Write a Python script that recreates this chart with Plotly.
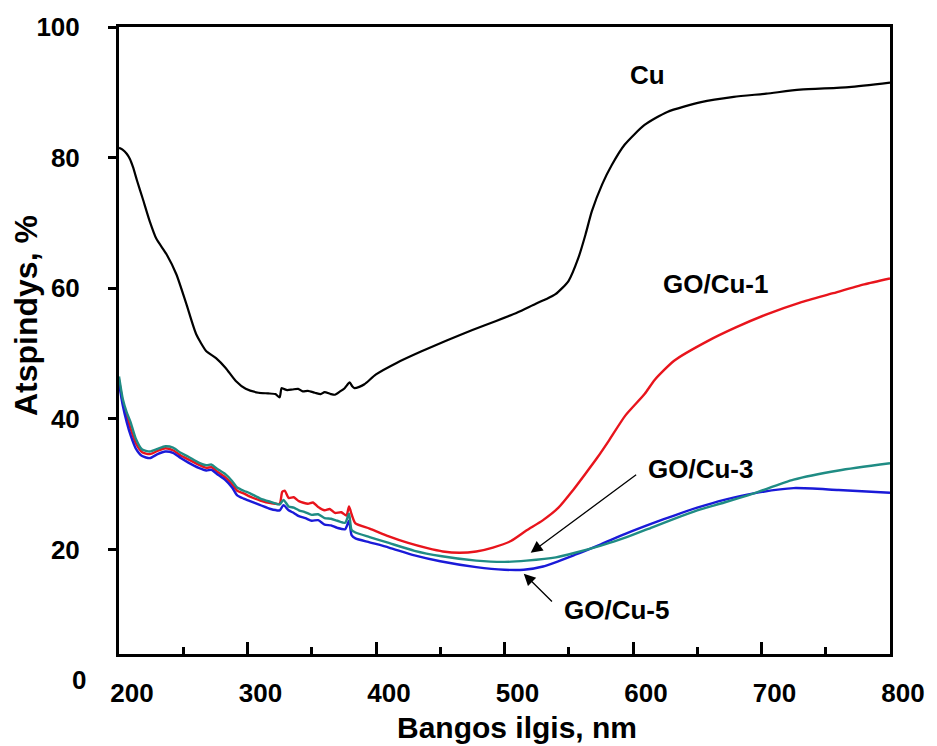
import plotly.graph_objects as go

# Reflectance spectra (wavelength in nm, reflectance in %)
wl_cu = [200, 203, 206, 208.5, 211, 214, 218.5, 224, 229, 237, 244.7, 252.4, 260, 267.8,
         275.5, 283, 290.9, 298.6, 308.6, 316, 321.7, 325, 326.5, 328, 331, 335, 339.4,
         343, 347, 352.5, 357, 360, 364.8, 368, 372, 375.6, 378, 379.5, 381.5, 383.3,
         387, 391, 400, 416.4, 435, 455, 475, 493.5, 510, 524, 532, 539.7, 549.8, 557.4,
         563, 568, 576, 583.6, 593.6, 609, 626.7, 653, 678.4, 703.7, 730, 768, 800]
r_cu = [81.5, 81.2, 80.6, 79.8, 78.5, 76.5, 73.7, 70.2, 67.6, 65.2, 62.1, 57.6, 53.0, 50.4,
        49.3, 47.8, 45.8, 44.6, 44.0, 43.9, 43.8, 43.3, 44.7, 44.6, 44.4, 44.5, 44.6,
        44.2, 44.3, 44.0, 43.8, 44.1, 43.8, 43.7, 44.2, 44.7, 45.3, 45.6, 45.0, 44.7,
        44.9, 45.3, 46.8, 48.6, 50.3, 52.0, 53.6, 55.0, 56.3, 57.6, 58.3, 59.1, 61.1,
        64.6, 68.2, 71.8, 75.9, 78.9, 82.0, 85.0, 87.0, 88.5, 89.3, 89.8, 90.4, 90.8, 91.5]

wl_go1 = [200, 203, 206, 209, 213, 218, 224, 230, 236, 242, 248, 254, 262, 268, 272, 276,
          283, 288, 292, 297, 302, 310, 318, 325, 327, 329, 332, 336, 340, 347, 351, 355,
          360, 364, 368, 373, 377, 379, 381, 384, 395, 410, 425, 440, 452, 465, 478, 491,
          505, 517, 530, 542, 553, 563, 572, 581, 594, 609, 617, 632, 658, 680, 704, 730,
          755, 780, 800]
r_go1 = [46.0, 42.5, 40.5, 38.5, 36.3, 34.9, 34.6, 35.1, 35.5, 35.2, 34.4, 33.8, 33.0, 32.5,
         32.6, 32.0, 31.0, 30.0, 29.0, 28.6, 28.1, 27.5, 27.1, 27.0, 28.8, 29.0, 27.9,
         28.0, 27.4, 27.0, 27.2, 26.5, 26.0, 26.2, 25.6, 25.7, 25.2, 26.6, 25.4, 24.0,
         23.2, 22.0, 21.0, 20.2, 19.7, 19.5, 19.7, 20.3, 21.3, 22.9, 24.5, 26.4, 29.0,
         31.6, 34.0, 36.6, 40.5, 43.8, 46.0, 48.9, 51.9, 54.0, 56.0, 57.8, 59.2, 60.6, 61.5]

wl_go3 = [200, 203, 206, 209, 213, 218, 224, 230, 236, 242, 248, 254, 262, 268, 272, 276,
          283, 288, 292, 297, 302, 310, 318, 325, 328, 332, 336, 340, 345, 350, 355, 360,
          365, 370, 376, 379, 381, 384, 395, 410, 430, 450, 478, 500, 517, 540, 555, 575,
          594, 615, 632, 650, 671, 694, 725, 760, 800]
r_go3 = [46.5, 43.0, 41.0, 39.5, 37.0, 35.3, 35.0, 35.4, 35.8, 35.6, 34.8, 34.2, 33.3, 32.9,
         33.0, 32.4, 31.5, 30.5, 29.5, 29.0, 28.6, 27.8, 27.3, 26.9, 27.6, 26.6, 26.4,
         26.0, 25.7, 25.3, 25.4, 24.8, 24.7, 24.4, 24.1, 25.5, 23.0, 22.6, 21.9, 21.0,
         19.8, 19.0, 18.3, 18.1, 18.3, 18.8, 19.5, 20.6, 21.8, 23.4, 24.7, 26.0, 27.2,
         28.6, 30.7, 32.1, 33.2]

wl_go5 = [200, 203, 206, 209, 213, 218, 224, 230, 236, 242, 248, 254, 262, 268, 272, 276,
          283, 288, 292, 297, 302, 310, 318, 325, 328, 332, 336, 340, 345, 350, 355, 360,
          365, 370, 376, 379, 381, 384, 395, 410, 430, 450, 478, 500, 515, 530, 555, 575,
          594, 615, 632, 650, 671, 694, 725, 760, 800]
r_go5 = [45.5, 42.0, 39.5, 37.5, 35.5, 34.3, 34.0, 34.6, 35.0, 34.8, 34.0, 33.3, 32.5, 32.1,
         32.2, 31.6, 30.6, 29.5, 28.3, 27.8, 27.4, 26.8, 26.2, 26.0, 26.8, 26.0, 25.6,
         25.1, 24.8, 24.4, 24.5, 23.8, 23.7, 23.3, 23.1, 24.4, 22.2, 21.7, 21.1, 20.3,
         19.1, 18.2, 17.3, 16.9, 16.9, 17.4, 19.2, 20.8, 22.4, 24.0, 25.2, 26.4, 27.6,
         28.6, 29.4, 29.1, 28.7]

x_ticks = [200, 300, 400, 500, 600, 700, 800]
y_ticks = [20, 40, 60, 80, 100]

FONT = "Liberation Sans, Arial, sans-serif"
Y_MIN, Y_MAX = 4, 100
PLOT_H = 746 - 25 - 92  # plot area height in px

fig = go.Figure()
curves = [
    (wl_cu, r_cu, "Cu", "#000000", 2.2),
    (wl_go1, r_go1, "GO/Cu-1", "#e8141c", 2.4),
    (wl_go5, r_go5, "GO/Cu-5", "#1a1ad8", 2.4),
    (wl_go3, r_go3, "GO/Cu-3", "#1f8c84", 2.4),
]
for xs, ys, name, color, width in curves:
    fig.add_trace(go.Scatter(x=xs, y=ys, mode="lines", name=name,
                             line=dict(color=color, width=width,
                                       shape="spline", smoothing=0.6)))

lbl = dict(family=FONT, size=26, color="#000000")
# Curve labels
fig.add_annotation(x=611, y=92.7, text="<b>Cu</b>", showarrow=False, font=lbl)
fig.add_annotation(x=664.4, y=60.6, text="<b>GO/Cu-1</b>", showarrow=False, font=lbl)
fig.add_annotation(x=652.5, y=32.4, text="<b>GO/Cu-3</b>", showarrow=False, font=lbl)
fig.add_annotation(x=587.5, y=10.7, text="<b>GO/Cu-5</b>", showarrow=False, font=lbl)
# Pointer arrows
fig.add_annotation(x=520.4, y=19.5, ax=603.6, ay=31.6, axref="x", ayref="y", text="",
                   showarrow=True, arrowhead=2, arrowsize=1.8, arrowwidth=1.3,
                   arrowcolor="#000000")
fig.add_annotation(x=515.0, y=16.3, ax=538.1, ay=11.8, axref="x", ayref="y", text="",
                   showarrow=True, arrowhead=2, arrowsize=1.8, arrowwidth=1.3,
                   arrowcolor="#000000")
# "0" label of the y axis sits below the frame (value 0 lies under the axis minimum)
fig.add_annotation(x=0, xref="paper", xshift=-31, xanchor="right",
                   y=0, yref="paper", yanchor="middle",
                   yshift=-(Y_MIN - 0) * PLOT_H / (Y_MAX - Y_MIN),
                   text="<b>0</b>", showarrow=False,
                   font=dict(family=FONT, size=26, color="#000000"))
# Axis titles
fig.add_annotation(x=0.5, xref="paper", xshift=12, y=0, yref="paper", yshift=-92,
                   yanchor="bottom", text="<b>Bangos ilgis, nm</b>", showarrow=False,
                   font=dict(family=FONT, size=30, color="#000000"))
fig.add_annotation(x=0, xref="paper", xshift=-93, y=0.539, yref="paper",
                   xanchor="center", yanchor="middle", textangle=-90,
                   text="<b>Atspindys, %</b>",
                   showarrow=False, font=dict(family=FONT, size=32, color="#000000"))

fig.update_layout(
    width=937, height=746, autosize=False,
    margin=dict(l=119, r=39, t=25, b=92),
    paper_bgcolor="white", plot_bgcolor="white",
    showlegend=False,
    xaxis=dict(range=[200, 800], tickvals=x_ticks, ticktext=[f"<b>{v}</b>" for v in x_ticks],
               showgrid=False, zeroline=False, showline=True, mirror=True,
               linecolor="#000000", linewidth=3,
               ticks="inside", ticklen=12, tickwidth=3, tickcolor="#000000",
               minor=dict(ticks="inside", ticklen=7, tickwidth=2.5, dtick=50,
                          tick0=200, tickcolor="#000000", showgrid=False),
               ticklabelshift=13, ticklabelstandoff=14,
               tickfont=dict(family=FONT, size=26, color="#000000")),
    yaxis=dict(range=[Y_MIN, Y_MAX], tickvals=y_ticks,
               ticktext=[f"<b>{v}</b>" for v in y_ticks],
               showgrid=False, zeroline=False, showline=True, mirror=True,
               linecolor="#000000", linewidth=3,
               ticks="outside", ticklen=8, tickwidth=3, tickcolor="#000000",
               ticklabelstandoff=23,
               tickfont=dict(family=FONT, size=26, color="#000000")),
)

fig.write_html("out.html")
